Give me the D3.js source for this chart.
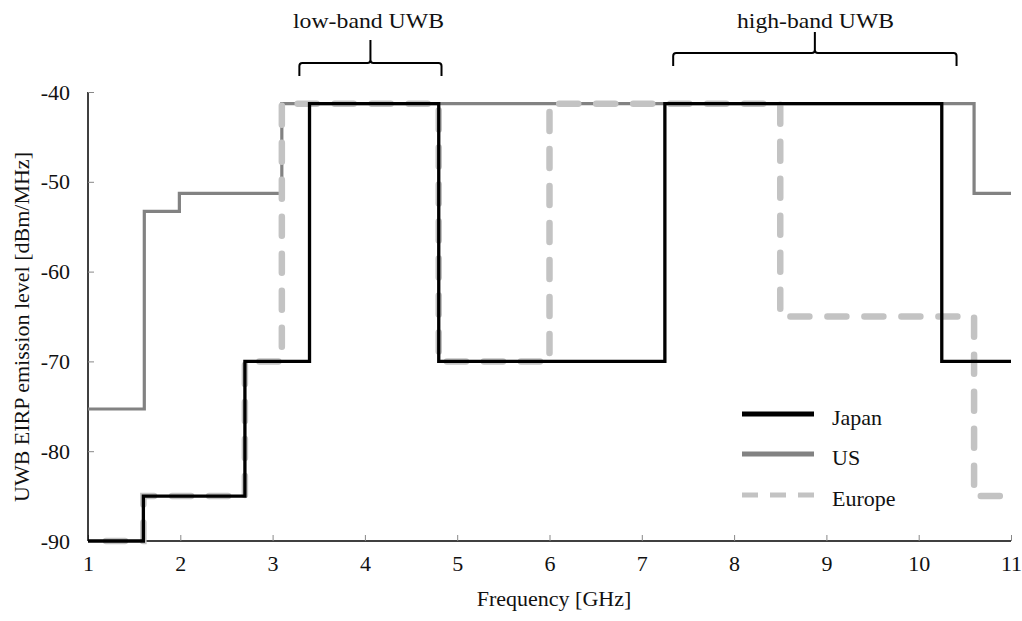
<!DOCTYPE html>
<html>
<head>
<meta charset="utf-8">
<script src="https://cdn.jsdelivr.net/npm/d3@7/dist/d3.min.js"></script>
<style>
  html, body { margin: 0; padding: 0; background: #fff; }
  svg text { font-family: "Liberation Serif", "Times New Roman", serif; fill: #111; }
</style>
</head>
<body>
<svg id="chart" width="1022" height="621"></svg>
<script>
// ---- data ----
const xTicks = [1, 2, 3, 4, 5, 6, 7, 8, 9, 10, 11];
const yTicks = [-90, -80, -70, -60, -50, -40];

const japanFreq  = [1, 1.6, 2.7, 3.4, 4.8, 7.25, 10.25, 11];
const japanLevel = [-90, -85, -70, -41.3, -70, -41.3, -70, -70];

const usFreq  = [1, 1.61, 1.99, 3.1, 10.6, 11];
const usLevel = [-75.3, -53.3, -51.3, -41.3, -51.3, -51.3];

const europeFreq  = [1, 1.6, 2.7, 3.1, 4.8, 6.0, 8.5, 10.6, 11];
const europeLevel = [-90, -85, -70, -41.3, -70, -41.3, -65, -85, -85];

const seriesNames = ["Japan", "US", "Europe"];

const bandLabels = ["low-band UWB", "high-band UWB"];
const bandStart  = [3.29, 7.34];
const bandEnd    = [4.83, 10.41];

// ---- layout ----
const FS = 22;
const svg = d3.select("#chart");
const x = d3.scaleLinear().domain([1, 11]).range([88, 1011]);
const y = d3.scaleLinear().domain([-90, -40]).range([541, 92]);

const zip = (f, l) => f.map((v, i) => [v, l[i]]);
const line = d3.line().x(d => x(d[0])).y(d => y(d[1])).curve(d3.curveStepAfter);

// axes
const xAxis = d3.axisBottom(x).tickValues(xTicks).tickSize(-6).tickPadding(14).tickFormat(d => String(d));
const yAxis = d3.axisLeft(y).tickValues(yTicks).tickSize(-6).tickPadding(18).tickFormat(d => String(d));

const gx = svg.append("g").attr("transform", `translate(0,${y(-90)})`).call(xAxis);
const gy = svg.append("g").attr("transform", `translate(${x(1)},0)`).call(yAxis);
[gx, gy].forEach(g => {
  g.select(".domain").attr("stroke", "#000").attr("stroke-width", 1.5);
  g.selectAll(".tick line").attr("stroke", "#888").attr("stroke-width", 1);
  g.selectAll(".tick text").attr("font-size", FS).attr("font-family", "Liberation Serif, serif").attr("fill", "#111");
});
gx.select(".domain").attr("d", `M${x(1)},0H${x(11)}`);
gy.select(".domain").attr("d", `M0,${y(-40)}V${y(-90)}`);

// series
svg.append("path").datum(zip(usFreq, usLevel))
  .attr("d", line).attr("fill", "none").attr("stroke", "#828282").attr("stroke-width", 3.2);
svg.append("path").datum(zip(europeFreq, europeLevel))
  .attr("d", line).attr("fill", "none").attr("stroke", "#c3c3c3").attr("stroke-width", 6.5)
  .attr("stroke-dasharray", "19,18").attr("stroke-dashoffset", 19).attr("stroke-linecap", "round");
svg.append("path").datum(zip(japanFreq, japanLevel))
  .attr("d", line).attr("fill", "none").attr("stroke", "#000").attr("stroke-width", 3.3);

// axis titles
svg.append("text").attr("x", 554).attr("y", 606).attr("text-anchor", "middle")
  .attr("font-size", FS).text("Frequency [GHz]");
svg.append("text").attr("transform", "translate(29,327) rotate(-90)").attr("text-anchor", "middle")
  .attr("font-size", FS).text("UWB EIRP emission level [dBm/MHz]");

// band brackets
const bracketY = [63, 53];
const stemY = [40, 32];
const labelWidth = [151, 157];
const labelCx = [368.5, 815.5];
bandLabels.forEach((lab, i) => {
  const x1 = x(bandStart[i]), x2 = x(bandEnd[i]), cx = (x1 + x2) / 2;
  const yt = bracketY[i], yb = yt + 13, ys = stemY[i], r = 3;
  const p = `M${x1},${yb}L${x1},${yt + r}Q${x1},${yt} ${x1 + r},${yt}L${cx - r},${yt}Q${cx},${yt} ${cx},${yt - r}L${cx},${ys}` +
            `M${cx},${yt - r}Q${cx},${yt} ${cx + r},${yt}L${x2 - r},${yt}Q${x2},${yt} ${x2},${yt + r}L${x2},${yb}`;
  svg.append("path").attr("d", p).attr("fill", "none").attr("stroke", "#000").attr("stroke-width", 2);
  svg.append("text").attr("x", labelCx[i] - labelWidth[i] / 2).attr("y", 28)
    .attr("textLength", labelWidth[i]).attr("lengthAdjust", "spacingAndGlyphs")
    .attr("font-size", FS).text(lab);
});

// legend
const legendColors = ["#000", "#828282", "#c3c3c3"];
const legendDash = [null, null, "16,12"];
const legendY = [414, 454, 495];
seriesNames.forEach((n, i) => {
  svg.append("line").attr("x1", 742).attr("x2", 814).attr("y1", legendY[i]).attr("y2", legendY[i])
    .attr("stroke", legendColors[i]).attr("stroke-width", 5)
    .attr("stroke-dasharray", legendDash[i]);
  svg.append("text").attr("x", 832).attr("y", legendY[i] + 11).attr("font-size", FS).text(n);
});
</script>
</body>
</html>
